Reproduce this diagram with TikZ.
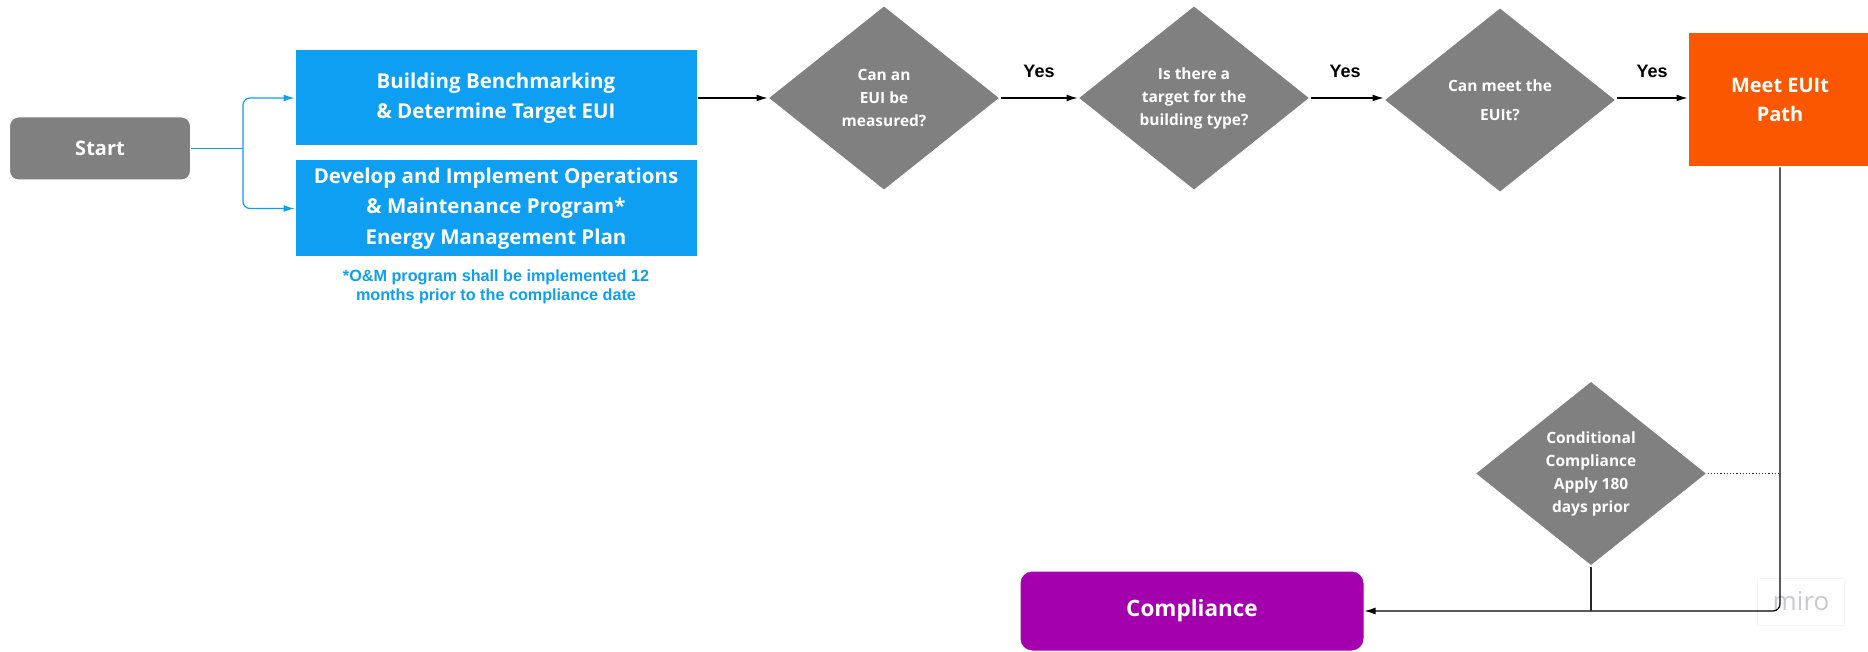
\documentclass[tikz,border=0pt]{standalone}
\usepackage{fontspec}
\setmainfont{Open Sans}
\newfontfamily\arialfont{Liberation Sans}
\usetikzlibrary{shapes.geometric,arrows.meta}

\definecolor{flowgrey}{HTML}{808080}
\definecolor{flowblue}{HTML}{0E9EF2}
\definecolor{floworange}{HTML}{FA5700}
\definecolor{flowpurple}{HTML}{A400AE}
\definecolor{markgrey}{HTML}{C9C9D3}

\tikzset{
  startbox/.style={rectangle, rounded corners=9pt, fill=flowgrey, draw=white, line width=1pt,
    minimum width=181pt, minimum height=63pt, text=white, inner sep=0pt,
    font=\bfseries\fontsize{20}{24}\selectfont},
  taskbox/.style={rectangle, fill=flowblue, draw=white, line width=1pt, minimum width=402pt,
    minimum height=96pt, text=white, align=center, inner sep=0pt,
    font=\bfseries\fontsize{20.5}{30.5}\selectfont},
  decision/.style={diamond, fill=flowgrey, draw=white, line width=1pt, inner sep=0pt,
    minimum width=232pt, minimum height=185pt, text=white, align=center,
    font=\bfseries\fontsize{15.5}{23}\selectfont},
  pathbox/.style={rectangle, fill=floworange, draw=white, line width=1pt, minimum width=184pt,
    minimum height=134pt, text=white, align=center, inner sep=0pt,
    font=\bfseries\fontsize{20}{29}\selectfont},
  endbox/.style={rectangle, rounded corners=12pt, fill=flowpurple, draw=white, line width=1pt,
    minimum width=344pt, minimum height=80pt, text=white, inner sep=0pt,
    font=\bfseries\fontsize{22.5}{26}\selectfont},
  notetext/.style={text=flowblue, align=center, inner sep=0pt,
    font=\arialfont\bfseries\fontsize{16.2}{18.5}\selectfont},
  yeslabel/.style={inner sep=0pt, font=\arialfont\bfseries\fontsize{18}{20}\selectfont},
  flowarrow/.style={-{Latex[length=11pt,width=7pt]}, line width=1.2pt, black},
  brancharrow/.style={-{Latex[length=11pt,width=7pt]}, line width=1.2pt, flowblue,
    rounded corners=7pt},
  flowline/.style={line width=1.2pt, black!85},
  dotline/.style={line width=1.3pt, black!80, dash pattern=on 1.3pt off 1.9pt}
}

\begin{document}
\begin{tikzpicture}[x=1pt,y=-1pt]
  \useasboundingbox (0,0) rectangle (1868,652);

  % start and the two parallel tasks
  \node[startbox] (start) at (100,148.5) {Start};
  \node[taskbox] (bench) at (496,98)
    {Building Benchmarking\\\& Determine Target EUI};
  \node[taskbox, minimum height=97pt] (om) at (496,208.5)
    {Develop and Implement Operations\\\& Maintenance Program*\\Energy Management Plan};
  \node[notetext] (note) at (496,287)
    {*O\&M program shall be implemented 12\\months prior to the compliance date};

  % decision chain
  \node[decision] (d1) at (884,98) {Can an\\EUI be\\measured?};
  \node[decision] (d2) at (1194,98) {Is there a\\target for the\\building type?};
  \node[decision, font=\bfseries\fontsize{15.5}{29}\selectfont] (d3) at (1500,100)
    {Can meet the\\EUIt?};
  \node[pathbox] (meet) at (1780,100) {Meet EUIt\\Path};
  \node[decision] (cond) at (1591,473.5)
    {Conditional\\Compliance\\Apply 180\\days prior};
  \node[endbox] (comp) at (1192,611) {Compliance};

  \node[yeslabel] (y1) at (1039,71) {Yes};
  \node[yeslabel] (y2) at (1345,71) {Yes};
  \node[yeslabel] (y3) at (1652,71) {Yes};

  % watermark
  \node[draw=black!4, line width=0.8pt, minimum width=87pt, minimum height=47pt,
        text=markgrey, font=\fontsize{26}{28}\selectfont] (mark) at (1801,601.5) {miro};

  % connectors
  \coordinate (split) at (243,148.5);
  \draw[line width=1.2pt, flowblue] (start.east) -- (split);
  \draw[brancharrow] (split) |- (bench.west);
  \draw[brancharrow] (split) |- (om.west);

  \draw[flowarrow] (bench.east) -- (d1.west);
  \draw[flowarrow] (d1.east) -- (d2.west);
  \draw[flowarrow] (d2.east) -- (d3.west |- d2.east);
  \draw[flowarrow] (d3.east |- d2.east) -- (meet.west |- d2.east);

  \coordinate (corner) at (1780,611);
  \coordinate (join) at (cond.south |- corner);
  \draw[flowarrow, rounded corners=7pt] (meet.south) -- (corner) -- (comp.east);
  \draw[flowline] (cond.south) -- (join);
  \draw[dotline] (cond.east) -- (cond.east -| meet.south);
\end{tikzpicture}
\end{document}
